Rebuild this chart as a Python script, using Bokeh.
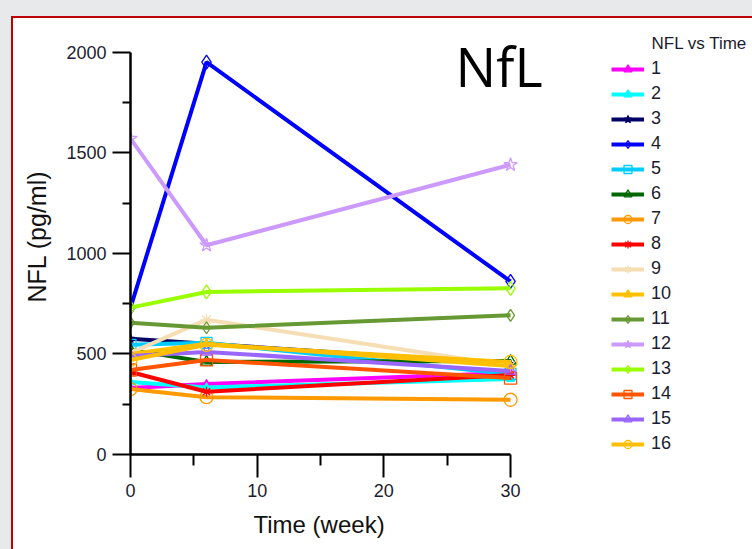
from bokeh.plotting import figure
from bokeh.models import (Legend, LegendItem, Label, Title, FixedTicker,
                          Range1d, ColumnDataSource)
from bokeh.embed import file_html
from bokeh.resources import INLINE

# ---------------- data ----------------
weeks = [0, 6, 30]
series_labels = [str(i) for i in range(1, 17)]

nfl_1 = [330, 350, 405]
nfl_2 = [360, 333, 375]
nfl_3 = [575, 550, 450]
nfl_4 = [730, 1950, 860]
nfl_5 = [545, 555, 400]
nfl_6 = [520, 460, 465]
nfl_7 = [325, 285, 272]
nfl_8 = [410, 312, 395]
nfl_9 = [505, 670, 440]
nfl_10 = [500, 550, 440]
nfl_11 = [655, 630, 692]
nfl_12 = [1570, 1040, 1440]
nfl_13 = [730, 808, 826]
nfl_14 = [420, 470, 380]
nfl_15 = [490, 510, 415]
nfl_16 = [470, 545, 460]

all_series = [nfl_1, nfl_2, nfl_3, nfl_4, nfl_5, nfl_6, nfl_7, nfl_8,
              nfl_9, nfl_10, nfl_11, nfl_12, nfl_13, nfl_14, nfl_15, nfl_16]

x_ticks = [0, 10, 20, 30]
x_minor = [5, 15, 25]
y_ticks = [0, 500, 1000, 1500, 2000]
y_minor = [250, 750, 1250, 1750]

# ---------------- styles ----------------
colors = ["#ff00ff", "#00ffff", "#000066", "#0000ff", "#00ccff", "#006600",
          "#ff9900", "#ff0000", "#f5deb3", "#ffc000", "#669933", "#cc99ff",
          "#99ff00", "#ff5500", "#9966ff", "#ffbf00"]
markers = ["triangle", "triangle", "star", "diamond", "square", "triangle",
           "circle", "asterisk", "asterisk", "triangle", "diamond", "star",
           "diamond", "square", "triangle", "circle"]
filled = [True, True, True, False, False, False, False, False,
          False, True, False, False, False, False, False, False]
msizes = [8, 8, 9, 14, 11, 11, 13, 10, 12, 8, 12, 14, 14, 12, 11, 13]

TXT = "#1c1c30"
FONT = "Liberation Sans"

p = figure(width=739, height=531, output_backend="svg", toolbar_location=None,
           x_range=Range1d(0, 49.1), y_range=Range1d(0, 2167),
           min_border_left=117, min_border_right=0,
           min_border_top=0, min_border_bottom=95)
p.margin = (18, 0, 0, 13)
p.styles = {"outline": "2px solid #c00000",
            "box-shadow": "0 0 0 40px #e8e9eb"}
p.background_fill_color = "white"
p.border_fill_color = "white"
p.outline_line_color = None
p.grid.visible = False

# axes
xa = p.xaxis[0]
xa.ticker = FixedTicker(ticks=x_ticks, minor_ticks=x_minor)
xa.bounds = (0, 30)
xa.axis_line_width = 2.5
xa.axis_line_color = "black"
xa.major_tick_out = 23
xa.major_tick_in = 0
xa.minor_tick_out = 11
xa.minor_tick_in = 0
xa.major_tick_line_width = 2
xa.minor_tick_line_width = 2
xa.major_label_text_font = FONT
xa.major_label_text_font_size = "18px"
xa.major_label_text_color = TXT
xa.major_label_standoff = 6

ya = p.yaxis[0]
ya.ticker = FixedTicker(ticks=y_ticks, minor_ticks=y_minor)
ya.bounds = (0, 2000)
ya.axis_line_width = 2.5
ya.axis_line_color = "black"
ya.major_tick_out = 18
ya.major_tick_in = 0
ya.minor_tick_out = 8
ya.minor_tick_in = 0
ya.major_tick_line_width = 2
ya.minor_tick_line_width = 2
ya.major_label_text_font = FONT
ya.major_label_text_font_size = "18px"
ya.major_label_text_color = TXT
ya.major_label_standoff = 6
ya.axis_label = "NFL (pg/ml)"
ya.axis_label_text_font = FONT
ya.axis_label_text_font_size = "25px"
ya.axis_label_text_font_style = "normal"
ya.axis_label_text_color = "#111111"
ya.axis_label_standoff = 12

# x-axis title, aligned under the axis bounds
p.add_layout(Title(text="Time (week)", align="left", offset=123, standoff=19,
                   text_font=FONT, text_font_size="24px",
                   text_font_style="normal", text_color="#111111"), "below")

items = []
for name, vals, c, m, f, s in zip(series_labels, all_series, colors, markers, filled, msizes):
    src = ColumnDataSource(dict(week=weeks, nfl=vals))
    lr = p.line("week", "nfl", source=src, line_color=c, line_width=4)
    sr = p.scatter("week", "nfl", source=src, marker=m, size=s,
                   line_color=c, line_width=1.3,
                   fill_color=c, fill_alpha=1.0 if f else 0.0)
    items.append(LegendItem(label=name, renderers=[lr, sr]))

legend = Legend(items=items, location=(481, 0), orientation="vertical",
                glyph_width=33, glyph_height=20, label_height=20, spacing=4,
                padding=0, margin=0, label_standoff=7,
                label_text_font=FONT, label_text_font_size="18px",
                label_text_color=TXT, border_line_color=None,
                background_fill_alpha=0.0)
p.add_layout(legend)

p.add_layout(Label(x=41.13, y=2043, text="NFL vs Time", text_font=FONT,
                   text_font_size="17px", text_color=TXT,
                   text_align="left", text_baseline="alphabetic"))
p.add_layout(Label(x=25.66, y=1930, text="NfL", text_font="Open Sans",
                   text_font_size="54px", text_color="black",
                   text_align="left", text_baseline="alphabetic"))

open("out.html", "w").write(file_html(p, INLINE))
